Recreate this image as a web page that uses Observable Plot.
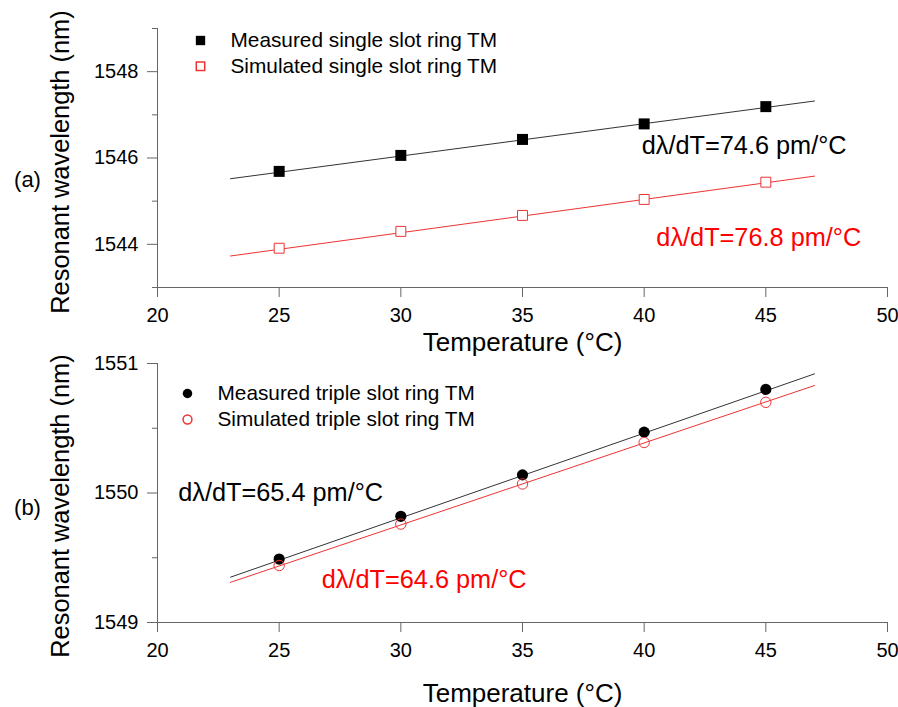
<!DOCTYPE html>
<html>
<head>
<meta charset="utf-8">
<script src="https://cdn.jsdelivr.net/npm/d3@7"></script>
<script src="https://cdn.jsdelivr.net/npm/@observablehq/plot@0.6"></script>
<style>
  body { margin: 0; background: #fff; }
  #chart svg { display: block; }
</style>
</head>
<body>
<div id="chart"></div>
<script>
// ---- Data ----
const temps = [25, 30, 35, 40, 45];
const fitT = [23, 47];
const xTicks = [20, 25, 30, 35, 40, 45, 50];
const xDomain = [20, 50];

// Panel (a): single slot ring
const measA = [1545.69, 1546.06, 1546.43, 1546.79, 1547.19];
const simA = [1543.91, 1544.30, 1544.67, 1545.04, 1545.44];
const fitMeasA = [1545.52, 1547.32];
const fitSimA = [1543.73, 1545.58];
const yDomainA = [1543, 1549];
const yTicksA = [1544, 1546, 1548];
const yMinorA = [1543, 1545, 1547, 1549];
const legendA = ["Measured single slot ring TM", "Simulated single slot ring TM"];
const annTextA = ["d\u03bb/dT=74.6 pm/\u00b0C", "d\u03bb/dT=76.8 pm/\u00b0C"];
const annXA = [39.9, 40.5];
const annYA = [1546.27, 1544.16];

// Panel (b): triple slot ring
const measB = [1549.49, 1549.82, 1550.14, 1550.47, 1550.80];
const simB = [1549.44, 1549.76, 1550.07, 1550.39, 1550.70];
const fitMeasB = [1549.35, 1550.92];
const fitSimB = [1549.31, 1550.83];
const yDomainB = [1549, 1551];
const yTicksB = [1549, 1550, 1551];
const yMinorB = [1549.5, 1550.5];
const legendB = ["Measured triple slot ring TM", "Simulated triple slot ring TM"];
const annTextB = ["d\u03bb/dT=65.4 pm/\u00b0C", "d\u03bb/dT=64.6 pm/\u00b0C"];
const annXB = [20.85, 26.75];
const annYB = [1550.0, 1549.33];

const xTitle = "Temperature (\u00b0C)";
const yTitle = "Resonant wavelength (nm)";
const colors = ["black", "red"];

const FONT = "'Liberation Sans', Arial, sans-serif";
const AXIS = "#666";

function pts(xs, ys) { return xs.map((x, i) => ({x, y: ys[i]})); }

function panel(o) {
  const ann = o.annText.map((t, i) => ({x: o.annX[i], y: o.annY[i], t, c: colors[i]}));
  return Plot.plot({
    width: 898,
    height: o.height,
    marginLeft: 157,
    marginRight: 11,
    marginTop: o.marginTop,
    marginBottom: o.marginBottom,
    x: {domain: xDomain},
    y: {domain: o.yDomain},
    style: {fontFamily: FONT, background: "white", color: "black", overflow: "visible"},
    marks: [
      Plot.ruleX([xDomain[0]], {stroke: AXIS}),
      Plot.ruleY([o.yDomain[0]], {stroke: AXIS}),
      Plot.axisX({ticks: xTicks, tickSize: 10, tickPadding: 10, fontSize: 20, label: null, stroke: AXIS, tickFormat: d => String(d)}),
      Plot.axisY({ticks: o.yTicks, tickSize: 10, tickPadding: 9, fontSize: 20, label: null, stroke: AXIS, tickFormat: d => String(d)}),
      Plot.axisY({ticks: o.yMinor, tickSize: 5, label: null, stroke: AXIS, tickFormat: () => ""}),
      Plot.line(pts(fitT, o.fitMeas), {x: "x", y: "y", stroke: "#333", strokeWidth: 1}),
      Plot.line(pts(fitT, o.fitSim), {x: "x", y: "y", stroke: "#e33", strokeWidth: 1}),
      Plot.dot(pts(temps, o.meas), {x: "x", y: "y", symbol: o.symbol, r: o.rFill, fill: "black"}),
      Plot.dot(pts(temps, o.sim), {x: "x", y: "y", symbol: o.symbol, r: o.rOpen, fill: o.openFill, stroke: "#e33", strokeWidth: 1}),
      // legend
      Plot.dot([0], {frameAnchor: "top-left", dx: o.legDx, dy: o.legDy[0], symbol: o.symbol, r: o.rFill * 0.85, fill: "black"}),
      Plot.dot([0], {frameAnchor: "top-left", dx: o.legDx, dy: o.legDy[1], symbol: o.symbol, r: o.rOpen * 0.85, fill: "white", stroke: "#e33"}),
      Plot.text([o.legend[0]], {text: d => d, frameAnchor: "top-left", dx: o.legDx + 30, dy: o.legDy[0], textAnchor: "start", lineAnchor: "middle", fontSize: 20.8}),
      Plot.text([o.legend[1]], {text: d => d, frameAnchor: "top-left", dx: o.legDx + 30, dy: o.legDy[1], textAnchor: "start", lineAnchor: "middle", fontSize: 20.8}),
      // annotations
      Plot.text(ann, {x: "x", y: "y", text: "t", fill: "c", textAnchor: "start", lineAnchor: "middle", fontSize: 25.3}),
      // titles
      Plot.text([xTitle], {text: d => d, frameAnchor: "bottom", dy: o.xTitleDy, textAnchor: "middle", lineAnchor: "middle", fontSize: 26}),
      Plot.text([yTitle], {text: d => d, frameAnchor: "left", dx: -97, dy: o.yTitleDy, rotate: -90, textAnchor: "middle", lineAnchor: "middle", fontSize: 25.4}),
      Plot.text([o.tag], {text: d => d, frameAnchor: "left", dx: -130, dy: o.tagDy, textAnchor: "middle", lineAnchor: "middle", fontSize: 22})
    ]
  });
}

const el = document.getElementById("chart");
el.append(panel({
  height: 352, marginTop: 28, marginBottom: 65,
  yDomain: yDomainA, yTicks: yTicksA, yMinor: yMinorA,
  meas: measA, sim: simA, fitMeas: fitMeasA, fitSim: fitSimA,
  symbol: "square", rFill: 6.2, rOpen: 5.6, openFill: "white",
  legend: legendA, legDx: 43, legDy: [12, 37.7],
  annText: annTextA, annX: annXA, annY: annYA,
  xTitleDy: 55, yTitleDy: 4, tag: "(a)", tagDy: 22
}));
el.append(panel({
  height: 355, marginTop: 11, marginBottom: 85,
  yDomain: yDomainB, yTicks: yTicksB, yMinor: yMinorB,
  meas: measB, sim: simB, fitMeas: fitMeasB, fitSim: fitSimB,
  symbol: "circle", rFill: 5.6, rOpen: 5.2, openFill: "none",
  legend: legendB, legDx: 30, legDy: [30, 56],
  annText: annTextB, annX: annXB, annY: annYB,
  xTitleDy: 71, yTitleDy: 13, tag: "(b)", tagDy: 15
}));
</script>
</body>
</html>
